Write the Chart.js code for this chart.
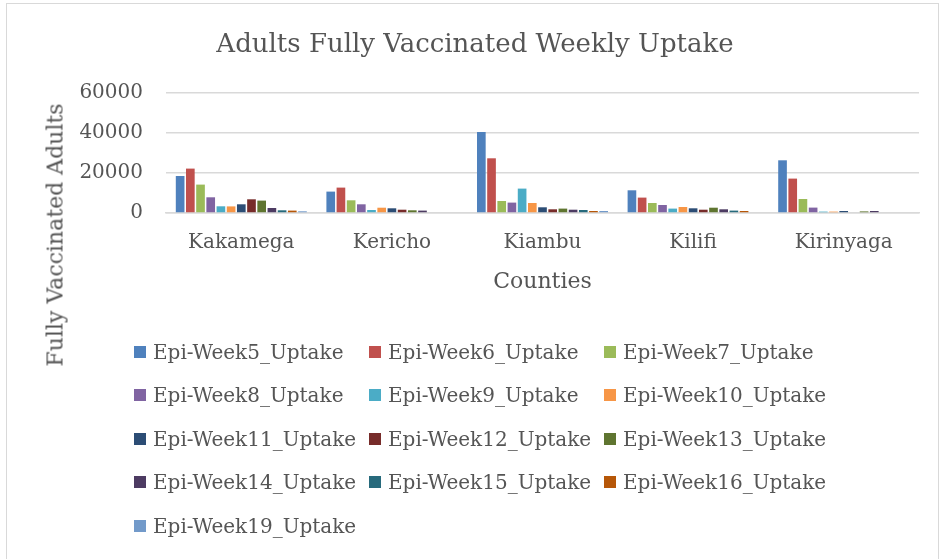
<!DOCTYPE html>
<html>
<head>
<meta charset="utf-8">
<script src="https://cdn.jsdelivr.net/npm/chart.js@4/dist/chart.umd.min.js"></script>
<style>
  body { margin: 0; background: #fff; }
  #wrap { position: relative; width: 943px; height: 559px; overflow: hidden; }
  #frame { position: absolute; left: 6px; top: 3px; width: 933px; height: 570px; border: 1px solid #d9d9d9; box-sizing: border-box; }
  #chart { position: absolute; left: 0; top: 0; }
  #ytitle {
    position: absolute; left: 55px; top: 235px;
    transform: translate(-50%, -50%) rotate(-90deg);
    font: 22px "DejaVu Serif"; color: #555; white-space: nowrap;
  }
  #legend {
    position: absolute; left: 134px; top: 330px;
    display: grid; grid-template-columns: 235px 235px 235px; grid-auto-rows: 43.5px;
    font: 20px "DejaVu Serif"; color: #555;
  }
  .item { display: flex; align-items: center; white-space: nowrap; }
  .box { width: 12px; height: 12px; margin-right: 7px; flex: none; }
</style>
</head>
<body>
<div id="wrap">
  <div id="frame"></div>
  <canvas id="chart" width="943" height="559"></canvas>
  <div id="ytitle">Fully Vaccinated Adults</div>
  <div id="legend"></div>
</div>
<script>
const COUNTIES = ['Kakamega', 'Kericho', 'Kiambu', 'Kilifi', 'Kirinyaga']
const WEEKS = [
  'Epi-Week5_Uptake',
  'Epi-Week6_Uptake',
  'Epi-Week7_Uptake',
  'Epi-Week8_Uptake',
  'Epi-Week9_Uptake',
  'Epi-Week10_Uptake',
  'Epi-Week11_Uptake',
  'Epi-Week12_Uptake',
  'Epi-Week13_Uptake',
  'Epi-Week14_Uptake',
  'Epi-Week15_Uptake',
  'Epi-Week16_Uptake',
  'Epi-Week19_Uptake',
]
// one array per week, values in county order
const week5 = [18500, 10700, 40500, 11350, 26350]
const week6 = [22200, 12700, 27350, 7700, 17200]
const week7 = [14200, 6350, 6000, 5000, 7000]
const week8 = [7850, 4350, 5200, 4000, 2700]
const week9 = [3350, 1500, 12200, 2200, 700]
const week10 = [3300, 2650, 5000, 3000, 700]
const week11 = [4350, 2350, 2850, 2350, 1000]
const week12 = [6850, 1650, 1850, 1650, 0]
const week13 = [6200, 1350, 2200, 2650, 800]
const week14 = [2500, 1200, 1650, 1850, 1000]
const week15 = [1350, 0, 1500, 1200, 0]
const week16 = [1200, 0, 1000, 1000, 0]
const week19 = [850, 0, 1000, 0, 0]
const SERIES = [week5, week6, week7, week8, week9, week10, week11, week12, week13, week14, week15, week16, week19]
const COLORS = [
  '#4f81bd', '#c0504d', '#9bbb59', '#8064a2', '#4bacc6', '#f79646', '#2c4d75',
  '#772c2a', '#5f7530', '#4d3b62', '#276a7c', '#b65708', '#729aca',
]
const Y_TICKS = [0, 20000, 40000, 60000]

const TEXT = '#555555'
const GRID = '#d9d9d9'
const FONT = 'DejaVu Serif'

function buildDatasets() {
  return WEEKS.map((label, i) => ({
    label,
    data: SERIES[i],
    backgroundColor: COLORS[i],
    borderWidth: 0,
    barPercentage: 0.85,
    categoryPercentage: 0.88,
  }))
}

function buildLegend(chart) {
  const legend = document.getElementById('legend')
  chart.data.datasets.forEach((ds) => {
    const item = document.createElement('div')
    item.className = 'item'
    const box = document.createElement('span')
    box.className = 'box'
    box.style.background = ds.backgroundColor
    const text = document.createElement('span')
    text.textContent = ds.label
    item.appendChild(box)
    item.appendChild(text)
    legend.appendChild(item)
  })
}

const chart = new Chart(document.getElementById('chart'), {
  type: 'bar',
  data: { labels: COUNTIES, datasets: buildDatasets() },
  options: {
    responsive: false,
    animation: false,
    layout: { padding: { left: 31, right: 24, top: 0, bottom: 266 } },
    plugins: {
      legend: { display: false },
      tooltip: { enabled: false },
      title: {
        display: true,
        text: 'Adults Fully Vaccinated Weekly Uptake',
        color: TEXT,
        font: { family: FONT, size: 26, weight: 'normal', lineHeight: 1.2 },
        padding: { top: 29.4, bottom: 32.4 },
      },
    },
    scales: {
      x: {
        grid: { display: false, drawTicks: false },
        border: { display: true, color: GRID, width: 1.5 },
        ticks: { color: TEXT, font: { family: FONT, size: 20 }, padding: 18 },
        title: {
          display: true,
          text: 'Counties',
          color: TEXT,
          font: { family: FONT, size: 22, lineHeight: 1 },
          padding: { top: -2, bottom: 0 },
        },
      },
      y: {
        min: 0,
        max: 60000,
        afterFit: (scale) => { scale.width = 135 },
        afterBuildTicks: (scale) => { scale.ticks = Y_TICKS.map((v) => ({ value: v })) },
        grid: { color: GRID, lineWidth: 1.5, drawTicks: false },
        border: { display: false },
        ticks: {
          color: TEXT,
          font: { family: FONT, size: 20 },
          padding: 23,
          callback: (value) => String(value),
        },
      },
    },
  },
})

buildLegend(chart)
</script>
</body>
</html>
